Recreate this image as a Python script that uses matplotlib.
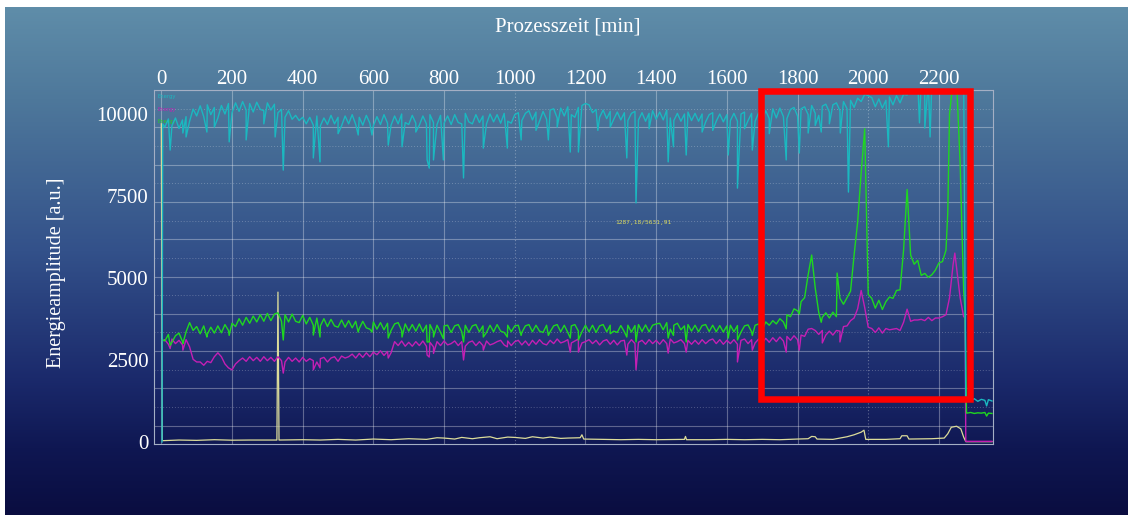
import numpy as np
import matplotlib.pyplot as plt
from matplotlib.patches import Rectangle
from matplotlib.colors import LinearSegmentedColormap

# logged samples, every 10 min from 10 to 2270 min
t_grid = np.arange(10, 2271, 10)

cyan_v = [
    9600, 9850, 9640, 9880, 9560, 9820, 9920, 9780, 10150, 9940,
    10250, 9920, 10280, 9980, 10200, 9880, 10260, 10000, 10320, 10040,
    10340, 10080, 10380, 10120, 10320, 10060, 10360, 10140, 10100, 10340,
    10120, 10300, 10040, 10140, 9900, 10100, 9840, 9960, 9800, 9900,
    9700, 9900, 9660, 9940, 9640, 9880, 9680, 9960, 9700, 9900,
    9640, 9940, 9700, 9980, 9680, 9900, 9660, 9960, 9720, 9640,
    9920, 9680, 9980, 9720, 9660, 9940, 9700, 10000, 9740, 9680,
    9960, 9720, 9660, 9940, 9700, 9980, 9740, 9680, 9960, 9720,
    9940, 9680, 9980, 9740, 9700, 10020, 9760, 9700, 9980, 9740,
    9940, 9700, 10000, 9760, 9980, 9720, 10020, 9780, 9720, 9980,
    10040, 9800, 10020, 10100, 9820, 10060, 9780, 10080, 9840, 10120,
    10160, 9880, 10180, 9940, 10220, 9980, 9900, 10200, 10260, 10320,
    10280, 10040, 10140, 9900, 10120, 9860, 10080, 9840, 10060, 9820,
    10040, 9800, 10020, 10080, 9820, 10040, 9780, 10020, 10100, 9840,
    10060, 9820, 10120, 9880, 9800, 10020, 9780, 10000, 10060, 9800,
    10020, 9780, 10000, 9760, 9980, 10040, 9780, 10000, 9760, 9980,
    9800, 10020, 9780, 10000, 10060, 9800, 10020, 9780, 10040, 9820,
    10100, 9860, 10160, 9880, 10180, 9920, 9860, 10140, 10200, 9940,
    10160, 10220, 9980, 10260, 10020, 9960, 10240, 10300, 10060, 10280,
    10340, 10100, 10380, 10160, 10420, 10200, 10480, 10380, 10600, 10560,
    10500, 10220, 10460, 10180, 10420, 10520, 10280, 10560, 10340, 10600,
    10580, 10950, 11000, 10980, 11020, 10960, 11000, 10980, 11040, 10990,
    11000, 10960, 11020, 10980, 11000, 10970, 11010,
]
cyan_spike_t = [25, 61, 70, 129, 150, 192, 240, 290, 322, 345, 430, 449, 500,
                557, 596, 642, 681, 720, 752, 758, 770, 798, 855, 911, 979,
                1018, 1060, 1095, 1120, 1157, 1180, 1235, 1270, 1317, 1343,
                1380, 1434, 1449, 1485, 1530, 1560, 1604, 1630, 1650, 1672,
                1720, 1768, 1805, 1830, 1850, 1867, 1890, 1921, 1944, 2057,
                2145, 2160, 2175]
cyan_spike_v = [8900, 9420, 9300, 9450, 9600, 9150, 9210, 9700, 9300, 8290,
                8660, 8540, 9400, 9360, 9360, 9050, 9000, 9450, 8600, 8350,
                8600, 8600, 8050, 8960, 8960, 9210, 9500, 9210, 9600, 8840,
                8840, 9500, 9600, 8660, 7290, 9550, 8540, 9000, 8750, 9450,
                9500, 8750, 7740, 9550, 8900, 9400, 8600, 8810, 9420, 9650,
                9450, 9700, 9420, 7620, 9000, 9730, 9570, 9300]
cyan_tail_t = [2276, 2290, 2300, 2310, 2320, 2330, 2335, 2340, 2350]
cyan_tail_v = [1300, 1260, 1320, 1240, 1300, 1270, 1100, 1290, 1250]

green_v = [
    3080, 3280, 3040, 3240, 3320, 3060, 3360, 3640, 3400, 3520,
    3300, 3540, 3280, 3500, 3320, 3540, 3330, 3580, 3400, 3620,
    3520, 3760, 3560, 3800, 3620, 3840, 3660, 3880, 3680, 3920,
    3700, 3900, 3940, 3680, 3880, 3660, 3900, 3680, 3640, 3860,
    3600, 3800, 3560, 3780, 3540, 3760, 3520, 3740, 3540, 3500,
    3720, 3500, 3700, 3480, 3680, 3460, 3680, 3480, 3440, 3660,
    3440, 3640, 3420, 3620, 3400, 3600, 3640, 3400, 3600, 3380,
    3580, 3380, 3600, 3360, 3560, 3580, 3360, 3560, 3340, 3540,
    3560, 3340, 3540, 3580, 3360, 3560, 3340, 3540, 3580, 3360,
    3540, 3340, 3560, 3360, 3580, 3380, 3340, 3560, 3360, 3540,
    3560, 3340, 3540, 3580, 3360, 3560, 3380, 3340, 3560, 3360,
    3540, 3580, 3360, 3560, 3340, 3540, 3580, 3380, 3360, 3560,
    3360, 3560, 3340, 3540, 3580, 3360, 3560, 3380, 3340, 3550,
    3360, 3560, 3350, 3550, 3580, 3370, 3570, 3360, 3560, 3600,
    3620, 3420, 3640, 3440, 3560, 3620, 3420, 3540, 3580, 3380,
    3560, 3360, 3550, 3580, 3370, 3560, 3360, 3550, 3350, 3540,
    3560, 3360, 3550, 3350, 3540, 3570, 3360, 3560, 3600, 3420,
    3660, 3560, 3700, 3600, 3760, 3660, 3880, 3820, 4060, 4000,
    4280, 4400, 5100, 5700, 4700, 3950, 3800, 3940, 3780, 3960,
    3820, 4380, 4200, 4400, 4600, 5700, 6700, 8200, 9550, 4500,
    4380, 4080, 4320, 4040, 4280, 4420, 4380, 4620, 4640, 5850,
    7700, 5700, 5420, 5540, 5080, 5140, 5020, 5100, 5240, 5460,
    5500, 5850, 10000, 11000, 11000, 8500, 4600,
]
green_spike_t = [25, 61, 129, 192, 345, 430, 449, 557, 596, 642, 681, 752,
                 758, 770, 798, 855, 911, 979, 1018, 1095, 1157, 1180, 1270,
                 1317, 1343, 1434, 1449, 1485, 1604, 1630, 1672, 1768, 1805,
                 1867, 1912, 2225]
green_spike_v = [2950, 3000, 3200, 3250, 3110, 3260, 3200, 3350, 3350, 3170,
                 3200, 3050, 3050, 3200, 3150, 3050, 3200, 3200, 3250, 3250,
                 3170, 3110, 3300, 3200, 3050, 3170, 3250, 3050, 3170, 3110,
                 3250, 3450, 3900, 3650, 5150, 6980]
green_tail_t = [2274, 2278, 2290, 2300, 2310, 2320, 2330, 2335, 2340, 2350]
green_tail_v = [4000, 880, 900, 870, 890, 880, 900, 790, 880, 870]

magenta_v = [
    3120, 2980, 3140, 3000, 3100, 2960, 3120, 2900, 2520, 2440,
    2440, 2340, 2460, 2420, 2600, 2720, 2600, 2380, 2260, 2200,
    2380, 2480, 2560, 2460, 2600, 2480, 2580, 2460, 2600, 2480,
    2580, 2460, 2600, 2480, 2440, 2580, 2460, 2560, 2440, 2580,
    2460, 2540, 2480, 2440, 2540, 2580, 2440, 2560, 2600, 2460,
    2620, 2560, 2600, 2680, 2560, 2700, 2580, 2720, 2600, 2740,
    2660, 2780, 2640, 2760, 2720, 3060, 2940, 3080, 2920, 3040,
    2920, 3060, 2940, 3080, 2920, 3040, 2900, 3060, 2940, 3080,
    2960, 3000, 3080, 2940, 3060, 2920, 3040, 3080, 2940, 3060,
    2940, 3080, 2960, 3000, 3060, 3100, 2960, 3080, 2940, 3060,
    3100, 2960, 3080, 2940, 3100, 2980, 3120, 3000, 2960, 3100,
    3000, 3140, 3020, 3060, 3120, 3020, 3080, 3140, 3020, 3060,
    3120, 3000, 3100, 2960, 3080, 3120, 2980, 3100, 2960, 3080,
    3100, 2980, 3120, 3000, 3040, 3100, 2980, 3120, 3000, 3100,
    2980, 3120, 3000, 3140, 3020, 3060, 3120, 3000, 3100, 2980,
    3100, 2980, 3120, 3000, 3100, 3140, 3000, 3120, 2980, 3100,
    3000, 3120, 2980, 3100, 3140, 3000, 3120, 3020, 3140, 3020,
    3160, 3040, 3180, 3060, 3200, 3080, 3220, 3100, 3240, 3120,
    3260, 3220, 3440, 3460, 3400, 3280, 3400, 3260, 3380, 3260,
    3400, 3380, 3520, 3540, 3700, 3780, 4060, 4620, 4100, 3500,
    3460, 3340, 3480, 3320, 3460, 3420, 3440, 3460, 3400, 3650,
    4050, 3680, 3720, 3720, 3740, 3700, 3800, 3700, 3780, 3780,
    3820, 3880, 4400, 5400, 5300, 4400, 3820,
]
magenta_spike_t = [25, 61, 345, 430, 449, 642, 752, 758, 770, 855, 911, 979,
                   1157, 1180, 1317, 1343, 1434, 1485, 1630, 1672, 1768, 1805,
                   1870, 1920, 2245]
magenta_spike_v = [2850, 2800, 2100, 2200, 2260, 2560, 2650, 2590, 2700, 2500,
                   2800, 2900, 2740, 2740, 2650, 2200, 2710, 2740, 2440, 2800,
                   2740, 2800, 3020, 3050, 5760]
magenta_tail_t = [2274, 2276, 2290, 2320, 2350]
magenta_tail_v = [3800, 20, 20, 20, 20]

yellow_t = [0, 3, 50, 100, 150, 200, 250, 327, 330, 333, 400, 450, 500, 550,
            600, 650, 700, 750, 780, 800, 830, 850, 880, 900, 930, 950, 980,
            1000, 1030, 1050, 1080, 1100, 1130, 1150, 1185, 1190, 1195, 1250,
            1300, 1350, 1400, 1480, 1483, 1486, 1550, 1600, 1650, 1700, 1750,
            1800, 1830, 1840, 1850, 1855, 1900, 1920, 1940, 1960, 1980, 1988,
            1993, 2050, 2090, 2095, 2110, 2115, 2180, 2215, 2225, 2235, 2250,
            2262, 2270, 2276, 2350]
yellow_v = [9700, 40, 60, 50, 70, 55, 60, 60, 4570, 60, 70, 60, 80, 60,
            90, 70, 100, 80, 130, 120, 90, 140, 100, 130, 160, 100, 150,
            140, 110, 160, 120, 150, 110, 120, 130, 220, 90, 80,
            70, 80, 70, 80, 170, 70, 70, 80, 70, 80, 70,
            90, 100, 170, 160, 90, 80, 120, 160, 220, 300, 360,
            80, 80, 100, 190, 190, 90, 100, 120, 250, 450, 480,
            400, 150, 10, 10]

x_ticks = [0, 200, 400, 600, 800, 1000, 1200, 1400, 1600, 1800, 2000, 2200]
y_ticks = [0, 2500, 5000, 7500, 10000]


def trace(values, spike_t, spike_v, tail_t, tail_v, head=()):
    pts = list(zip(t_grid, values)) + list(zip(spike_t, spike_v))
    pts.sort(key=lambda p: p[0])
    pts = list(head) + pts + list(zip(tail_t, tail_v))
    t, v = zip(*pts)
    return np.array(t, float), np.array(v, float)


W, H = 1128, 515
fig = plt.figure(figsize=(W / 100, H / 100), dpi=100, facecolor='white')

# blue backdrop, lighter at the top
bg = fig.add_axes([5 / W, 0, 1 - 5 / W, 1 - 7 / H])
cmap = LinearSegmentedColormap.from_list('bg', [
    (0.0, '#5f8da9'), (0.18, '#4e789b'), (0.48, '#33518a'),
    (0.73, '#1b2a6c'), (0.87, '#0f1752'), (1.0, '#0a0d40')])
bg.imshow(np.linspace(0, 1, 256).reshape(-1, 1), aspect='auto', cmap=cmap,
          extent=[0, 1, 0, 1])
bg.axis('off')

ax = fig.add_axes([154 / W, 71 / H, (993 - 154) / W, (444 - 90) / H])
ax.patch.set_alpha(0)
ax.set_xlim(-20.7, 2353)
ax.set_ylim(-61, 10732)

# software grid: solid lines with dotted ones in between
grid_kw = dict(color='white', lw=0.8, alpha=0.32, zorder=1)
for k in range(10):
    ax.axhline(497 + 1137 * k, **grid_kw)
    ax.axhline(497 + 568 + 1137 * k, color='white', lw=0.7, alpha=0.25,
               ls=(0, (1, 2)), zorder=1)
for t in x_ticks:
    ax.axvline(t, color='white', lw=0.8, alpha=0.32, zorder=1,
               ls=(0, (1, 2)) if t in (1000, 2000) else '-')

for s in ax.spines.values():
    s.set_color('#a4afc4')
    s.set_linewidth(0.8)

serif = 'Liberation Serif'
ax.xaxis.tick_top()
ax.set_xticks(x_ticks)
ax.set_yticks(y_ticks)
ax.set_xticklabels([str(t) for t in x_ticks])
ax.set_yticklabels([str(v) for v in y_ticks])
ax.tick_params(length=0, colors='white', labelsize=15, pad=4)
ax.tick_params(axis='x', pad=0.5)
for lab in ax.get_xticklabels() + ax.get_yticklabels():
    lab.set_fontfamily(serif)

yt, yv = np.array(yellow_t, float), np.array(yellow_v, float)
mt, mv = trace(magenta_v, magenta_spike_t, magenta_spike_v,
               magenta_tail_t, magenta_tail_v, head=[(3, 3080)])
gt, gv = trace(green_v, green_spike_t, green_spike_v,
               green_tail_t, green_tail_v, head=[(3, 3120)])
ct, cv = trace(cyan_v, cyan_spike_t, cyan_spike_v,
               cyan_tail_t, cyan_tail_v, head=[(2, 0), (4, 9700)])

ax.plot(yt, yv, color='#dcdc9a', lw=0.9, zorder=3)
ax.plot(mt, mv, color='#c41fb4', lw=1.0, zorder=4)
ax.plot(gt, gv, color='#1fd81f', lw=1.0, zorder=5)
ax.plot(ct, cv, color='#1bb8c0', lw=1.0, zorder=6)

# channel labels in the corner
for y, name, c in [(0.983, 'Energy', '#1bb8c0'), (0.946, 'Energy', '#c41fb4'),
                   (0.910, 'Energy', '#1fd81f')]:
    ax.text(0.004, y, name, transform=ax.transAxes, color=c, fontsize=3.8,
            va='center', ha='left')

ax.text(1363, 6680, '1287,18/5631,91', color='#d8d860', fontsize=4.5,
        family='DejaVu Sans Mono', ha='center', va='center')

# highlighted region
ax.add_patch(Rectangle((1698, 1311), 2287 - 1698, 10687 - 1311, fill=False,
                       ec='#ff0000', lw=4.7, joinstyle='miter',
                       clip_on=False, zorder=10))

fig.text(568 / W, 1 - 27 / H, 'Prozesszeit [min]', color='white',
         fontsize=15, family=serif, ha='center', va='center')
fig.text(57 / W, 1 - 273 / H, 'Energieamplitude [a.u.]', color='white',
         fontsize=14.5, family=serif, rotation=90, ha='center', va='center')

fig.savefig('out.png', dpi=100)
